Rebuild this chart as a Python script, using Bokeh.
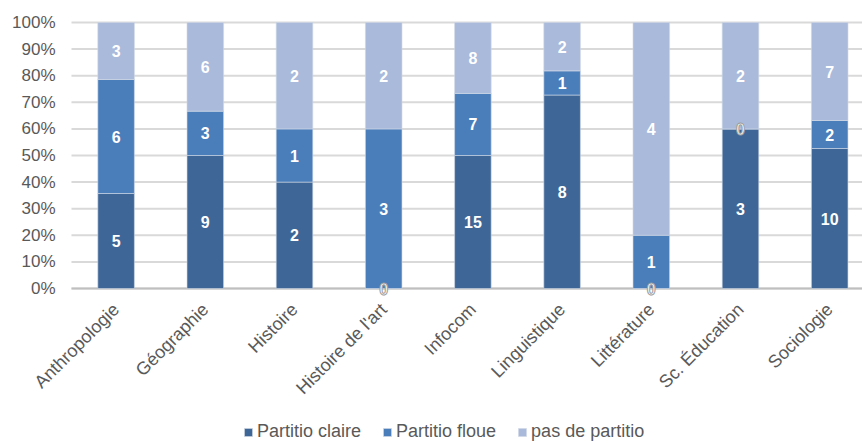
from bokeh.plotting import figure
from bokeh.models import (ColumnDataSource, Legend, LegendItem, LabelSet, Range1d)
from bokeh.embed import file_html
from bokeh.resources import INLINE
from bokeh.core.properties import value
import math

categories = ["Anthropologie", "Géographie", "Histoire", "Histoire de l'art",
              "Infocom", "Linguistique", "Littérature", "Sc. Éducation", "Sociologie"]
claire = [5, 9, 2, 0, 15, 8, 0, 3, 10]
floue = [6, 3, 1, 3, 7, 1, 1, 0, 2]
aucune = [3, 6, 2, 2, 8, 2, 4, 2, 7]
series_names = ["Partitio claire", "Partitio floue", "pas de partitio"]
colors = ["#3e6797", "#4a7ebb", "#a9badb"]
y_ticks = [i / 10 for i in range(11)]
y_tick_labels = [f"{round(t * 100)}%" for t in y_ticks]

FONT = "Liberation Sans"
GREY = "#595959"

W, H = 862, 443
LEFT, TOP = 71, 22          # pixel position of the 0-category edge / the 100% line
PLOT_H = 266                # pixel height from 0% to 100%
CAT_PX = 89.2               # pixel width of one category

series = [claire, floue, aucune]
totals = [sum(v) for v in zip(*series)]
xs = [i + 0.5 for i in range(len(categories))]
x_end = (W - LEFT) / CAT_PX

p = figure(x_range=Range1d(-LEFT / CAT_PX, x_end),
           y_range=Range1d(-(H - TOP - PLOT_H) / PLOT_H, 1 + TOP / PLOT_H),
           frame_width=W, frame_height=H, x_axis_location=None, y_axis_location=None,
           output_backend="svg", toolbar_location=None,
           min_border_left=0, min_border_right=0, min_border_top=0, min_border_bottom=0)
p.outline_line_color = None
p.xgrid.grid_line_color = None
p.ygrid.grid_line_color = None

# horizontal gridlines and baseline
p.segment(x0=[0] * len(y_ticks), x1=[x_end] * len(y_ticks), y0=y_ticks, y1=y_ticks,
          line_color="#d9d9d9", line_width=2)
p.segment(x0=[0], x1=[x_end], y0=[0], y1=[0], line_color="#bfbfbf", line_width=2)

# y tick labels
ysrc = ColumnDataSource(dict(x=[0] * len(y_ticks), y=y_ticks, t=y_tick_labels))
p.add_layout(LabelSet(x="x", y="y", text="t", source=ysrc, x_offset=-16,
                      text_align="right", text_baseline="middle",
                      text_font=value(FONT), text_font_size="17px", text_color=GREY))

has_outline = "text_outline_color" in LabelSet.properties()

bottoms = [0.0] * len(categories)
items = []
for name, vals, col in zip(series_names, series, colors):
    frac = [v / t for v, t in zip(vals, totals)]
    tops = [b + f for b, f in zip(bottoms, frac)]
    mids = [(b + t) / 2 for b, t in zip(bottoms, tops)]
    src = ColumnDataSource(dict(x=xs, bottom=bottoms, top=tops, mid=mids,
                                lab=[str(v) if v else "" for v in vals],
                                zlab=["" if v else str(v) for v in vals]))
    r = p.vbar(x="x", bottom="bottom", top="top", width=0.41, source=src,
               fill_color=col, line_color="#d0d8e6", line_width=0.6)
    items.append(LegendItem(label=name, renderers=[r]))
    labels = LabelSet(x="x", y="mid", text="lab", source=src, text_color="white",
                      text_font=value(FONT), text_font_size="16px", text_font_style="bold",
                      text_align="center", text_baseline="middle")
    p.add_layout(labels)
    zkw = dict(text_outline_color="#9a9a9a") if has_outline else {}
    zlabels = LabelSet(x="x", y="mid", text="zlab", source=src, text_color="white",
                       text_font=value(FONT), text_font_size="16px", text_font_style="bold",
                       text_align="center", text_baseline="middle", **zkw)
    p.add_layout(zlabels)
    bottoms = tops

# category labels
cat_src = ColumnDataSource(dict(x=xs, y=[0] * len(xs), name=categories))
p.add_layout(LabelSet(x="x", y="y", text="name", source=cat_src, angle=math.pi / 4,
                      y_offset=-18, text_align="right", text_baseline="middle",
                      text_font=value(FONT), text_font_size="18px", text_color=GREY))

legend = Legend(items=items, orientation="horizontal", location=(243, 1),
                label_text_font=FONT, label_text_font_size="18px", label_text_color=GREY,
                glyph_width=10, glyph_height=10, label_height=18, spacing=21,
                label_standoff=4, border_line_color=None, background_fill_alpha=0,
                margin=0, padding=0)
p.add_layout(legend, "center")

open("out.html", "w").write(file_html(p, INLINE))
